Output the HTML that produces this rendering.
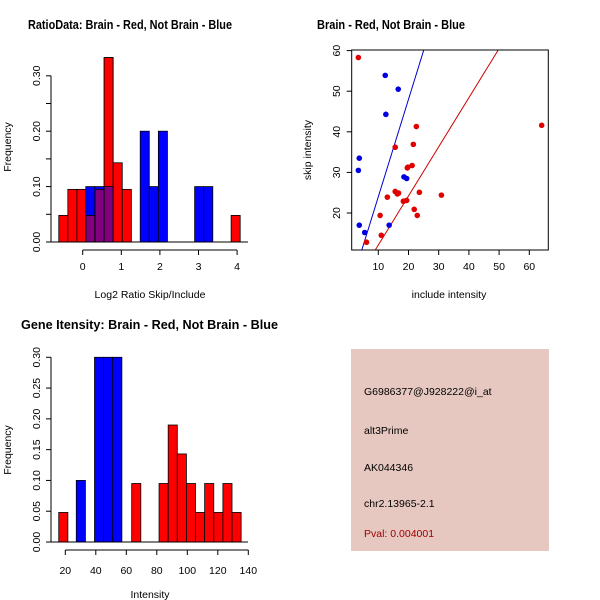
<!DOCTYPE html>
<html><head><meta charset="utf-8"><style>
body{margin:0;background:#fff;}
svg{display:block;font-family:"Liberation Sans",Arial,sans-serif;}
.t{font-weight:bold;font-size:12.5px;}
.l{font-size:10.5px;}
</style></head><body>
<svg id="c" width="600" height="600" xmlns="http://www.w3.org/2000/svg"></svg>
<script>
// ---- Ratio histogram data ----
const ratioRedStart = -0.62, ratioBinW = 0.235;
const ratioRed = [0.048,0.095,0.095,0.048,0.095,0.333,0.143,0.095,0,0,0,0,0,0,0,0,0,0,0,0.048];
const ratioBlueStart = 0.08;
const ratioBlue = [0.1,0.1,0.1,0,0,0,0.2,0.1,0.2,0,0,0,0.1,0.1];
const ratioXTicks = [0,1,2,3,4];
const ratioYTicks = ["0.00","0.10","0.20","0.30"];
// ---- Intensity histogram data ----
const intRedStart = 15.7, intBinW = 5.98;
const intRed = [0.048,0,0,0,0,0,0,0,0.095,0,0,0.095,0.19,0.143,0.095,0.048,0.095,0.048,0.095,0.048];
const intBlueStart = 27.2;
const intBlue = [0.1,0,0.3,0.3,0.3];
const intXTicks = [20,40,60,80,100,120,140];
const intYTicks = ["0.00","0.05","0.10","0.15","0.20","0.25","0.30"];
// ---- Scatter data ----
const redX = [3.4,6.1,10.6,11.0,13.0,15.6,15.6,16.3,16.7,18.3,19.4,19.6,19.8,21.2,21.6,21.9,22.6,22.9,23.6,30.9,64.1];
const redY = [58.3,12.8,19.4,14.5,23.9,36.2,25.3,24.7,24.9,22.9,23.1,31.1,31.3,31.7,36.9,20.9,41.3,19.4,25.1,24.4,41.6];
const blueX = [12.3,16.6,12.5,3.7,3.4,18.5,19.4,3.7,5.5,13.6];
const blueY = [53.9,50.5,44.3,33.5,30.5,28.9,28.5,17.0,15.2,17.0];
const slopes = [2.4,1.21];
const scXTicks = [10,20,30,40,50,60];
const scYTicks = [20,30,40,50,60];

const svg = document.getElementById('c');
const NS = 'http://www.w3.org/2000/svg';
function mk(tag, attrs, parent){const e=document.createElementNS(NS,tag);for(const k in attrs)e.setAttribute(k,attrs[k]);(parent||svg).appendChild(e);return e;}
function txt(s,x,y,cls,extra){const e=mk('text',Object.assign({x:x,y:y,class:cls||'l'},extra||{}));e.textContent=s;return e;}

// ===== Panel 1: ratio histogram =====
const g1 = mk('g',{});


const rx = v => 82.7 + v*38.6;
const ry = v => 242 - v*554;
function histo(g, arrR, startR, arrB, startB, bw, xf, yf){
  arrR.forEach((v,i)=>{ if(v<=0)return;
    const r=mk('rect',{x:xf(startR+i*bw),y:yf(v),width:xf(startR+(i+1)*bw)-xf(startR+i*bw),height:yf(0)-yf(v),fill:'#ff0000',stroke:'#000','stroke-width':0.8},g);
    
    
  });
  arrB.forEach((v,i)=>{ if(v<=0)return;
    const x0=startB+i*bw,x1=x0+bw;
    const r=mk('rect',{x:xf(x0),y:yf(v),width:xf(x1)-xf(x0),height:yf(0)-yf(v),fill:'#0000ff',stroke:'#000','stroke-width':0.8},g);
    
    
    arrR.forEach((rv,j)=>{ if(rv<=0)return;
      const a0=startR+j*bw,a1=a0+bw;
      const o0=Math.max(a0,x0),o1=Math.min(a1,x1);
      if(o1-o0>bw*0.5){const h=Math.min(rv,v);
        const p=mk('rect',{x:xf(o0),y:yf(h),width:xf(o1)-xf(o0),height:yf(0)-yf(h),fill:'#80007f',stroke:'#000','stroke-width':0.8},g);
        
        
        if(rv>v){const q=mk('rect',{x:xf(o0),y:yf(rv),width:xf(o1)-xf(o0),height:yf(v)-yf(rv),fill:'#ff0000',stroke:'#000','stroke-width':0.8},g);
          
          }
      }
    });
  });
}
histo(g1, ratioRed, ratioRedStart, ratioBlue, ratioBlueStart, ratioBinW, rx, ry);
mk('line',{x1:51,y1:242,x2:248,y2:242,stroke:'#000'},g1);
mk('line',{x1:rx(0),y1:250,x2:rx(4),y2:250,stroke:'#000'},g1);
ratioXTicks.forEach(t=>{mk('line',{x1:rx(t),y1:250,x2:rx(t),y2:255,stroke:'#000'},g1);txt(String(t),rx(t),270,'l',{'text-anchor':'middle'});});
mk('line',{x1:51,y1:ry(0),x2:51,y2:ry(0.3),stroke:'#000'},g1);
for(let i=0;i<=6;i++){const v=i*0.05;mk('line',{x1:46,y1:ry(v),x2:51,y2:ry(v),stroke:'#000'},g1);}
ratioYTicks.forEach(t=>{const v=parseFloat(t);txt(t,40,ry(v),'l',{'text-anchor':'middle',transform:`rotate(-90 40 ${ry(v)})`});});
txt('RatioData: Brain - Red, Not Brain - Blue',28,29,'t',{textLength:204,lengthAdjust:'spacingAndGlyphs'});
txt('Log2 Ratio Skip/Include',150,298,'l',{'text-anchor':'middle'});
txt('Frequency',11,147,'l',{'text-anchor':'middle',transform:'rotate(-90 11 147)'});

// ===== Panel 2: scatter =====
const g2 = mk('g',{});


const sx = v => 378.3 + (v-10)*3.02;
const sy = v => 213 - (v-20)*4.06;
mk('clipPath',{id:'clip'},g2);
mk('rect',{x:351.7,y:50,width:196.6,height:200},svg.querySelector('#clip'));
const lineCols=['#0000cc','#cc0000'];
slopes.forEach((s,i)=>{const l=mk('line',{x1:sx(0),y1:sy(0),x2:sx(70),y2:sy(70*s),stroke:lineCols[i],'stroke-width':1,'clip-path':'url(#clip)'},g2);
  
  });
redX.forEach((x,i)=>{const c=mk('circle',{cx:sx(x),cy:sy(redY[i]),r:2.8,fill:'#e00000'},g2);
  
  });
blueX.forEach((x,i)=>{const c=mk('circle',{cx:sx(x),cy:sy(blueY[i]),r:2.8,fill:'#0000e0'},g2);
  
  });
mk('rect',{x:351.7,y:50,width:196.6,height:200,fill:'none',stroke:'#000'},g2);
scXTicks.forEach(t=>{mk('line',{x1:sx(t),y1:250,x2:sx(t),y2:255,stroke:'#000'},g2);txt(String(t),sx(t),270,'l',{'text-anchor':'middle'});});
scYTicks.forEach(t=>{mk('line',{x1:346.7,y1:sy(t),x2:351.7,y2:sy(t),stroke:'#000'},g2);txt(String(t),340,sy(t),'l',{'text-anchor':'middle',transform:`rotate(-90 340 ${sy(t)})`});});
txt('Brain - Red, Not Brain - Blue',317,29,'t',{textLength:148,lengthAdjust:'spacingAndGlyphs'});
txt('include intensity',449,298,'l',{'text-anchor':'middle'});
txt('skip intensity',311,150,'l',{'text-anchor':'middle',transform:'rotate(-90 311 150)'});

// ===== Panel 3: intensity histogram =====
const g3 = mk('g',{});


const ix = v => 65.3 + (v-20)*1.525;
const iy = v => 542 - v*615.7;
histo(g3, intRed, intRedStart, intBlue, intBlueStart, intBinW, ix, iy);
mk('line',{x1:51,y1:542,x2:248,y2:542,stroke:'#000'},g3);
mk('line',{x1:ix(20),y1:550,x2:ix(140),y2:550,stroke:'#000'},g3);
intXTicks.forEach(t=>{mk('line',{x1:ix(t),y1:550,x2:ix(t),y2:555,stroke:'#000'},g3);txt(String(t),ix(t),574,'l',{'text-anchor':'middle'});});
mk('line',{x1:51,y1:iy(0),x2:51,y2:iy(0.3),stroke:'#000'},g3);
intYTicks.forEach(t=>{const v=parseFloat(t);mk('line',{x1:46,y1:iy(v),x2:51,y2:iy(v),stroke:'#000'},g3);txt(t,40,iy(v),'l',{'text-anchor':'middle',transform:`rotate(-90 40 ${iy(v)})`});});
txt('Gene Itensity: Brain - Red, Not Brain - Blue',21,329,'t',{textLength:257,lengthAdjust:'spacingAndGlyphs'});
txt('Intensity',150,598,'l',{'text-anchor':'middle'});
txt('Frequency',11,450,'l',{'text-anchor':'middle',transform:'rotate(-90 11 450)'});

// ===== Panel 4: info box =====
const g4 = mk('g',{});


mk('rect',{x:351,y:349,width:198,height:202,fill:'#e6c8c1'},g4);
txt('G6986377@J928222@i_at',364,395,'l');
txt('alt3Prime',364,434,'l');
txt('AK044346',364,471,'l');
txt('chr2.13965-2.1',364,507,'l');
txt('Pval: 0.004001',364,537,'l',{fill:'#a00000'});
</script>
</body></html>
